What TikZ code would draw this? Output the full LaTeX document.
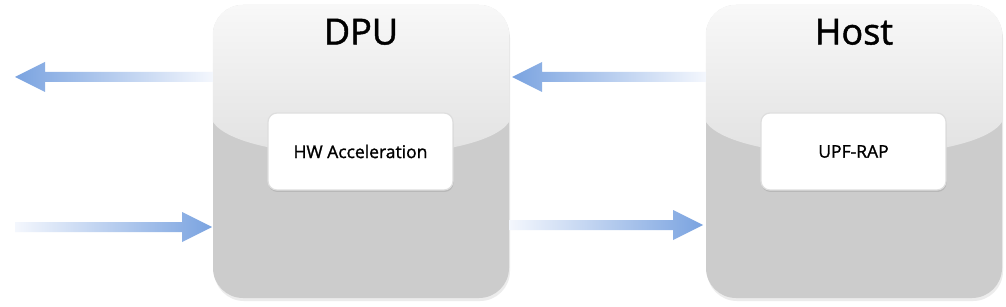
\documentclass[tikz,border=0pt]{standalone}
\usepackage{fontspec}
\setmainfont{Open Sans}[FakeBold=1.3]
\usetikzlibrary{calc,shadows}
\definecolor{arrblue}{RGB}{122,163,224}
\definecolor{arrpale}{RGB}{244,247,253}
\definecolor{boxlow}{RGB}{204,204,204}
\definecolor{boxtop}{RGB}{248,248,248}
\definecolor{boxmid}{RGB}{224,224,224}
\definecolor{innerline}{RGB}{222,222,222}
\newcommand\fatarrow[4]{%
  \shade[#4] let \p1=(#1), \p2=(#2) in
  ({\x1},{\y2+5pt}) -- ({\x2+(#3)},{\y2+5pt}) -- ({\x2+(#3)},{\y2+15pt}) --
  (\x2,\y2) -- ({\x2+(#3)},{\y2-15pt}) -- ({\x2+(#3)},{\y2-5pt}) --
  ({\x1},{\y2-5pt}) -- cycle;}
\tikzset{
  bigbox/.style={minimum width=296pt, minimum height=293pt, rounded corners=30pt,
    fill=boxlow, draw=none, inner sep=0pt,
    drop shadow={opacity=0.15, shadow xshift=1pt, shadow yshift=-3pt}},
  innerbox/.style={minimum width=185pt, minimum height=77pt, rounded corners=9pt,
    fill=white, draw=innerline, line width=1.2pt, inner sep=0pt,
    font=\fontsize{17.5}{20}\selectfont,
    drop shadow={opacity=0.25, shadow xshift=0.5pt, shadow yshift=-2pt}},
  boxtitle/.style={font=\fontsize{36}{42}\selectfont, inner sep=0pt, text=black},
  leftarr/.style={left color=arrblue, right color=arrpale},
  rightarr/.style={left color=arrpale, right color=arrblue}
}
\newcommand\glossy[1]{%
  \begin{scope}
    \clip[rounded corners=30pt] (#1.north west) rectangle (#1.south east);
    \shade[top color=boxtop, bottom color=boxmid]
      (#1.north west) -- (#1.north east) -- ($(#1.north east)+(0,117)$)
      .. controls ($(#1.north east)+(-30,162)$) and ($(#1.north west)+(30,162)$) ..
      ($(#1.north west)+(0,117)$) -- cycle;
  \end{scope}}
\begin{document}
\begin{tikzpicture}[x=1pt,y=-1pt]
\useasboundingbox[fill=white] (0,0) rectangle (1006,307);
% main boxes
\node[bigbox] (dpu) at (361,151.5) {};
\glossy{dpu}
\node[bigbox] (host) at (854,151.5) {};
\glossy{host}
% titles
\node[boxtitle] (dputitle) at ($(dpu.north)+(0,27)$) {DPU};
\node[boxtitle] (hosttitle) at ($(host.north)+(0,27)$) {Host};
% inner boxes
\node[innerbox] (hw) at (360.5,151.5) {HW Acceleration};
\node[innerbox] (upf) at (853.5,151.5) {UPF-RAP};
% arrow end points
\coordinate (outtip) at (15,77);
\coordinate (intail) at (15,227);
\coordinate (intip) at (212,227);
\coordinate (midtip) at (512,77);
\coordinate (midtip2) at (703,225);
% arrows
\fatarrow{dpu.west}{outtip}{30pt}{leftarr}
\fatarrow{intail}{intip}{-30pt}{rightarr}
\fatarrow{host.west}{midtip}{30pt}{leftarr}
\fatarrow{dpu.east}{midtip2}{-30pt}{rightarr}
\end{tikzpicture}
\end{document}
